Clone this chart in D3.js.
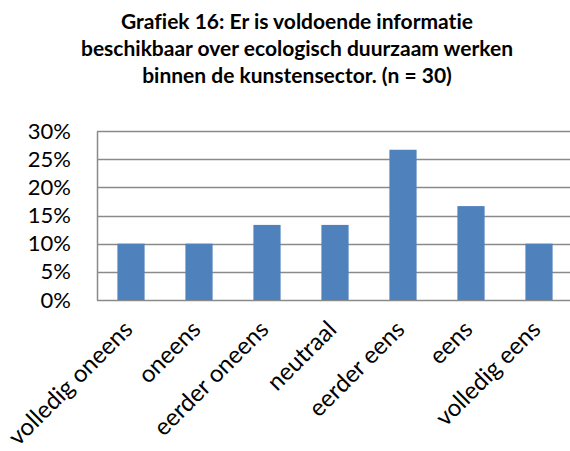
<!DOCTYPE html>
<html>
<head>
<meta charset="utf-8">
<script src="https://cdn.jsdelivr.net/npm/d3@7"></script>
<style>
  body { margin: 0; background: #fff; }
  svg text { font-family: Lato, "Open Sans", sans-serif; fill: #000; font-variant-ligatures: none; }
</style>
</head>
<body>
<svg id="chart" width="570" height="451"></svg>
<script>
var categories = ["volledig oneens", "oneens", "eerder oneens", "neutraal", "eerder eens", "eens", "volledig eens"],
    values = [0.10, 0.10, 0.1333, 0.1333, 0.2667, 0.1667, 0.10],
    yTicks = [0, 0.05, 0.10, 0.15, 0.20, 0.25, 0.30],
    titleLines = ["Grafiek 16: Er is voldoende informatie",
                  "beschikbaar over ecologisch duurzaam werken",
                  "binnen de kunstensector. (n = 30)"]

var svg = d3.select("#chart"),
    plotLeft = 97, plotRight = 573, plotTop = 131, plotBottom = 300

var x = d3.scaleBand().domain(categories).range([plotLeft, plotRight]).paddingInner(0.6).paddingOuter(0.3)
var y = d3.scaleLinear().domain([0, 0.30]).range([plotBottom, plotTop])

// title
svg.append("g").selectAll("text")
    .data(titleLines)
    .enter().append("text")
    .attr("x", 297)
    .attr("y", function(d, i) { return 29 + i * 27 })
    .attr("text-anchor", "middle")
    .style("font-weight", "bold")
    .style("font-size", "21px")
    .text(function(d) { return d })

// gridlines
svg.append("g").selectAll("line")
    .data(yTicks)
    .enter().append("line")
    .attr("x1", plotLeft).attr("x2", 570)
    .attr("y1", function(d) { return Math.round(y(d)) + 0.5 })
    .attr("y2", function(d) { return Math.round(y(d)) + 0.5 })
    .attr("stroke", "#8a8a8a")
    .attr("stroke-width", 1.5)

// bars
svg.append("g").selectAll("rect")
    .data(values)
    .enter().append("rect")
    .attr("x", function(d, i) { return x(categories[i]) })
    .attr("width", x.bandwidth())
    .attr("y", function(d) { return y(d) })
    .attr("height", function(d) { return plotBottom - y(d) })
    .attr("fill", "#4f81bd")

// y axis
var yAxis = svg.append("g")
    .attr("transform", "translate(" + plotLeft + ",0)")
    .call(d3.axisLeft(y).tickValues(yTicks).tickFormat(d3.format(".0%")).tickSize(0).tickPadding(26))
yAxis.select(".domain").attr("stroke", "#8a8a8a").attr("stroke-width", 1.5)
yAxis.selectAll("text").style("font-size", "22px").style("font-family", "Lato, sans-serif")

// x labels
svg.append("g").selectAll("text")
    .data(categories)
    .enter().append("text")
    .attr("text-anchor", "end")
    .attr("transform", function(d) {
        return "translate(" + (x(d) + x.bandwidth() / 2 + 3) + "," + (plotBottom + 31) + ") rotate(-45)"
    })
    .style("font-size", "24px")
    .text(function(d) { return d })
</script>
</body>
</html>
